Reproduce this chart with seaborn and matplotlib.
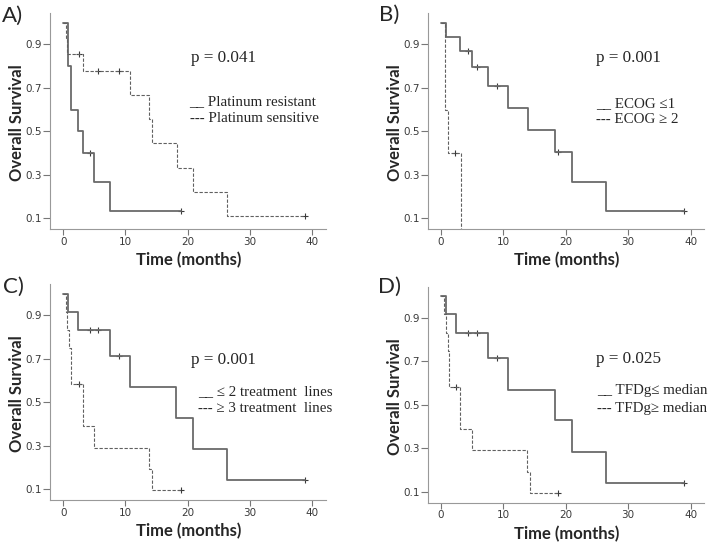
import matplotlib
matplotlib.use("Agg")
import matplotlib.pyplot as plt
import seaborn as sns

# A) platinum resistant / sensitive
a_res_t = [0, 0.8, 1.2, 2.4, 3.1, 4.9, 7.5, 18.9]
a_res_s = [1.0, 0.8, 0.6, 0.5, 0.4, 0.267, 0.133, 0.133]
a_res_ct = [4.3, 18.9]
a_res_cs = [0.4, 0.133]
a_sen_t = [0, 0.4, 0.65, 3.2, 10.8, 13.8, 14.2, 18.25, 20.9, 26.4, 38.9]
a_sen_s = [1.0, 0.929, 0.857, 0.778, 0.667, 0.556, 0.444, 0.333, 0.222, 0.111, 0.111]
a_sen_ct = [2.5, 5.6, 9.0, 38.9]
a_sen_cs = [0.857, 0.778, 0.778, 0.111]

# B) ECOG
b_lo_t = [0, 0.75, 3.1, 4.9, 7.5, 10.8, 13.9, 18.2, 21.0, 26.4, 38.9]
b_lo_s = [1.0, 0.933, 0.867, 0.795, 0.707, 0.606, 0.505, 0.404, 0.269, 0.135, 0.135]
b_lo_ct = [4.3, 5.7, 9.0, 18.7, 38.9]
b_lo_cs = [0.867, 0.795, 0.707, 0.404, 0.135]
b_hi_t = [0, 0.64, 1.17, 3.2]
b_hi_s = [1.0, 0.6, 0.4, 0.0]
b_hi_ct = [2.3]
b_hi_cs = [0.4]

# C) treatment lines
c_lo_t = [0, 0.8, 2.4, 7.5, 10.7, 18.2, 20.9, 26.4, 38.9]
c_lo_s = [1.0, 0.917, 0.833, 0.714, 0.571, 0.429, 0.286, 0.143, 0.143]
c_lo_ct = [4.3, 5.6, 9.0, 38.9]
c_lo_cs = [0.833, 0.833, 0.714, 0.143]
c_hi_t = [0, 0.4, 0.65, 0.95, 1.2, 3.2, 4.9, 13.8, 14.3, 18.9]
c_hi_s = [1.0, 0.917, 0.833, 0.75, 0.583, 0.389, 0.292, 0.194, 0.097, 0.097]
c_hi_ct = [2.5, 18.9]
c_hi_cs = [0.583, 0.097]

# D) TFDg
d_lo_t = [0, 0.75, 2.4, 7.5, 10.8, 18.2, 21.0, 26.4, 38.9]
d_lo_s = [1.0, 0.917, 0.833, 0.714, 0.571, 0.429, 0.286, 0.143, 0.143]
d_lo_ct = [4.4, 5.7, 9.0, 38.9]
d_lo_cs = [0.833, 0.833, 0.714, 0.143]
d_hi_t = [0, 0.45, 0.8, 1.1, 1.25, 3.05, 4.9, 13.7, 14.3, 18.8]
d_hi_s = [1.0, 0.917, 0.833, 0.75, 0.583, 0.389, 0.292, 0.194, 0.097, 0.097]
d_hi_ct = [2.36, 18.8]
d_hi_cs = [0.583, 0.097]

panels = [
    dict(tag="A)", box=(50, 13.3, 325.7, 229), p="p = 0.041", p_xy=(20.6, 0.836),
         leg=["__ Platinum resistant", "--- Platinum sensitive"], leg_xy=(20.3, 0.635, 0.557),
         solid=(a_res_t, a_res_s, a_res_ct, a_res_cs), dash=(a_sen_t, a_sen_s, a_sen_ct, a_sen_cs)),
    dict(tag="B)", box=(427.7, 13.3, 704.3, 229), p="p = 0.001", p_xy=(24.8, 0.836),
         leg=["__ ECOG \u22641", "--- ECOG \u2265 2"], leg_xy=(24.9, 0.629, 0.552),
         solid=(b_lo_t, b_lo_s, b_lo_ct, b_lo_cs), dash=(b_hi_t, b_hi_s, b_hi_ct, b_hi_cs)),
    dict(tag="C)", box=(50, 284.3, 325.7, 500), p="p = 0.001", p_xy=(20.6, 0.693),
         leg=["__ \u2264 2 treatment  lines", "--- \u2265 3 treatment  lines"], leg_xy=(21.7, 0.547, 0.471),
         solid=(c_lo_t, c_lo_s, c_lo_ct, c_lo_cs), dash=(c_hi_t, c_hi_s, c_hi_ct, c_hi_cs)),
    dict(tag="D)", box=(427.7, 287, 704.3, 502.7), p="p = 0.025", p_xy=(24.9, 0.71),
         leg=["__ TFDg\u2264 median", "--- TFDg\u2265 median"], leg_xy=(25.0, 0.567, 0.486),
         solid=(d_lo_t, d_lo_s, d_lo_ct, d_lo_cs), dash=(d_hi_t, d_hi_s, d_hi_ct, d_hi_cs)),
]

sns.set_style("ticks")
plt.rcParams["font.family"] = ["Lato", "DejaVu Sans"]

W, H = 709, 544
fig = plt.figure(figsize=(W / 100, H / 100), dpi=100)
serif = ["Liberation Serif", "DejaVu Serif"]

for pan in panels:
    l, t, r, b = pan["box"]
    ax = fig.add_axes([l / W, 1 - b / H, (r - l) / W, (b - t) / H])

    st, ss, sct, scs = pan["solid"]
    sns.lineplot(x=st, y=ss, ax=ax, drawstyle="steps-post", color="#6a6a6a",
                 lw=1.3, estimator=None, errorbar=None)
    sns.scatterplot(x=sct, y=scs, ax=ax, marker="+", s=22, color="#3a3a3a", linewidth=0.8)

    dt, ds, dct, dcs = pan["dash"]
    sns.lineplot(x=dt, y=ds, ax=ax, drawstyle="steps-post", color="#606060",
                 lw=0.8, linestyle=(0, (3, 1.5)), estimator=None, errorbar=None)
    sns.scatterplot(x=dct, y=dcs, ax=ax, marker="+", s=22, color="#3a3a3a", linewidth=0.8)

    ax.set_xlim(-2.14, 42.2)
    ax.set_ylim(0.0508, 1.0425)
    ax.set_xticks([0, 10, 20, 30, 40])
    ax.set_yticks([0.1, 0.3, 0.5, 0.7, 0.9])
    ax.set_yticklabels(["0.1", "0.3", "0.5", "0.7", "0.9"])
    for lab in ax.get_xticklabels() + ax.get_yticklabels():
        lab.set_fontfamily("DejaVu Sans")
        lab.set_fontsize(7.5)
        lab.set_color("#3a3a3a")
    ax.tick_params(axis="x", length=4, width=0.8, color="#777777", pad=1.5)
    ax.tick_params(axis="y", length=5, width=0.8, color="#777777", pad=0.5)
    sns.despine(ax=ax)
    for side in ("left", "bottom"):
        ax.spines[side].set_color("#999999")
        ax.spines[side].set_linewidth(0.8)

    ax.set_xlabel("Time (months)", fontsize=12, fontweight="bold")
    ax.set_ylabel("Overall Survival", fontsize=12, fontweight="bold")
    ax.xaxis.label.set_va("center")
    ax.yaxis.label.set_va("center")
    ax.xaxis.set_label_coords(0.502, -0.144)
    ax.yaxis.set_label_coords(-0.118, 0.491)

    ax.text(pan["p_xy"][0], pan["p_xy"][1], pan["p"], fontsize=12.3, family=serif,
            ha="left", va="center")
    lx, ly1, ly2 = pan["leg_xy"]
    ax.text(lx, ly1, pan["leg"][0], fontsize=10.8, family=serif, ha="left", va="center")
    ax.text(lx, ly2, pan["leg"][1], fontsize=10.8, family=serif, ha="left", va="center")

fig.text(13 / W, 1 - 16 / H, "A)", fontsize=16, ha="center", va="center")
fig.text(389 / W, 1 - 15 / H, "B)", fontsize=16, ha="center", va="center")
fig.text(13 / W, 1 - 287 / H, "C)", fontsize=16, ha="center", va="center")
fig.text(390 / W, 1 - 287 / H, "D)", fontsize=16, ha="center", va="center")

fig.savefig("out.png", dpi=100)
